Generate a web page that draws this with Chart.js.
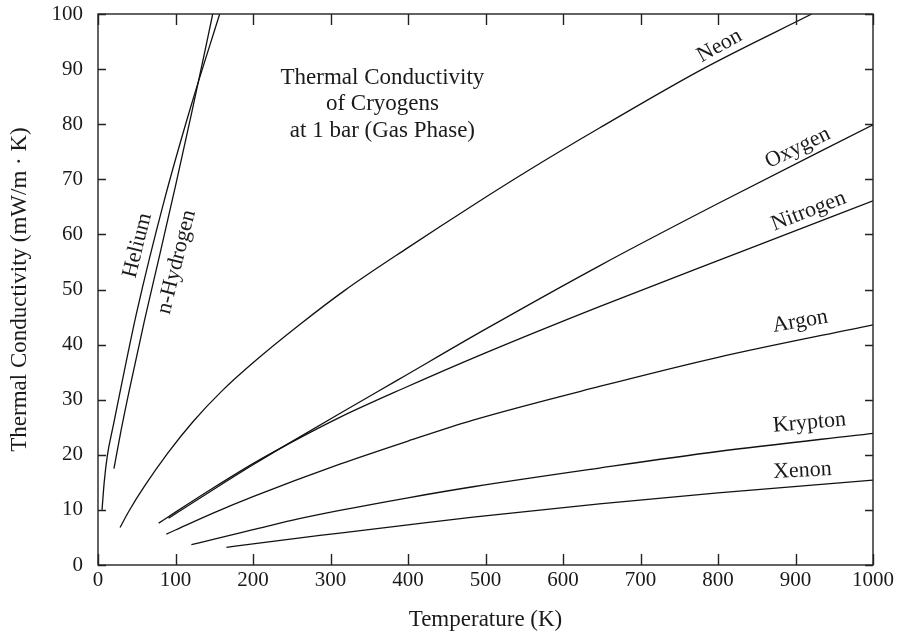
<!DOCTYPE html>
<html>
<head>
<meta charset="utf-8">
<script src="https://cdn.jsdelivr.net/npm/chart.js@4.4.0/dist/chart.umd.min.js"></script>
<style>
  html, body { margin: 0; padding: 0; background: #fff; }
  #wrap { width: 905px; height: 635px; }
</style>
</head>
<body>
<div id="wrap"><canvas id="chart"></canvas></div>
<script>
// temperature (K) and thermal conductivity (mW/m.K)
const heliumT = [5.2, 8, 12, 20, 29, 50, 85, 120, 157];
const heliumK = [10, 15, 19.8, 25.5, 31.8, 45.9, 65.9, 83.3, 100];

const hydrogenT = [20.6, 30, 40.5, 60, 80, 100, 120, 135, 148];
const hydrogenK = [17.5, 24.6, 31.8, 44.4, 56.5, 68.8, 81.5, 91.3, 100];

const neonT = [28.4, 40, 60, 90, 122.5, 160, 200, 260, 318, 400, 484, 560, 647, 780, 921];
const neonK = [6.8, 9.8, 14.3, 20.3, 26.0, 31.6, 36.7, 43.6, 49.8, 57.6, 65.3, 72.0, 79.3, 90.0, 100];

const oxygenT = [91, 100, 150, 200, 250, 312, 387, 500, 647, 800, 1000];
const oxygenK = [8.5, 9.3, 13.8, 18.2, 22.4, 27.5, 33.6, 42.8, 54.3, 65.6, 79.9];

const nitrogenT = [78.3, 100, 150, 200, 250, 312, 391.5, 500, 647, 836, 1000];
const nitrogenK = [7.6, 9.6, 14.1, 18.4, 22.3, 26.8, 31.9, 38.5, 46.9, 57.2, 66.1];

const argonT = [88.2, 100, 150, 200, 312, 400, 484, 647, 800, 1000];
const argonK = [5.6, 6.35, 9.5, 12.4, 18.3, 22.5, 26.3, 32.4, 37.7, 43.6];

const kryptonT = [120.5, 150, 200, 250, 312, 400, 484, 647, 800, 1000];
const kryptonK = [3.7, 4.7, 6.4, 8.1, 9.9, 12.2, 14.2, 17.6, 20.6, 23.9];

const xenonT = [165.7, 200, 312, 400, 484, 647, 800, 1000];
const xenonK = [3.2, 3.85, 5.8, 7.3, 8.7, 11.1, 13.1, 15.4];

const seriesNames = ['Helium', 'n-Hydrogen', 'Neon', 'Oxygen', 'Nitrogen', 'Argon', 'Krypton', 'Xenon'];
const xTicks = [0, 100, 200, 300, 400, 500, 600, 700, 800, 900, 1000];
const yTicks = [0, 10, 20, 30, 40, 50, 60, 70, 80, 90, 100];
const noteLines = ['Thermal Conductivity', 'of Cryogens', 'at 1 bar (Gas Phase)'];

const serif = "'Liberation Serif', 'Times New Roman', serif";

function pts(ts, ks) {
  return ts.map((t, i) => ({ x: t, y: ks[i] }));
}

const allT = [heliumT, hydrogenT, neonT, oxygenT, nitrogenT, argonT, kryptonT, xenonT];
const allK = [heliumK, hydrogenK, neonK, oxygenK, nitrogenK, argonK, kryptonK, xenonK];

const datasets = seriesNames.map((name, i) => ({
  label: name,
  data: pts(allT[i], allK[i]),
  borderColor: '#111',
  borderWidth: 1.3,
  pointRadius: 0,
  fill: false,
  cubicInterpolationMode: 'monotone'
}));

// frame with inward ticks, curve names and the note in the corner
const decorations = {
  id: 'decorations',
  afterDatasetsDraw(chart, args, opts) {
    const { ctx, chartArea: a, scales: { x, y } } = chart;
    ctx.save();
    ctx.strokeStyle = '#222';
    ctx.lineWidth = 1.4;
    ctx.strokeRect(a.left, a.top, a.right - a.left, a.bottom - a.top);
    ctx.beginPath();
    xTicks.forEach(v => {
      const px = Math.round(x.getPixelForValue(v)) + 0.5;
      ctx.moveTo(px, a.bottom); ctx.lineTo(px, a.bottom - 11);
      ctx.moveTo(px, a.top); ctx.lineTo(px, a.top + 11);
    });
    yTicks.forEach(v => {
      const py = Math.round(y.getPixelForValue(v)) + 0.5;
      ctx.moveTo(a.left, py); ctx.lineTo(a.left + 8, py);
      ctx.moveTo(a.right, py); ctx.lineTo(a.right - 8, py);
    });
    ctx.stroke();

    ctx.fillStyle = '#1a1a1a';
    ctx.font = '22px ' + serif;
    ctx.textAlign = 'center';
    ctx.textBaseline = 'middle';
    opts.spots.forEach((s, i) => {
      ctx.save();
      ctx.translate(x.getPixelForValue(s.at[0]), y.getPixelForValue(s.at[1]));
      ctx.rotate(s.angle * Math.PI / 180);
      ctx.fillText(seriesNames[i], 0, 0);
      ctx.restore();
    });

    ctx.font = '23px ' + serif;
    const nx = x.getPixelForValue(opts.note.at[0]);
    const ny = y.getPixelForValue(opts.note.at[1]);
    noteLines.forEach((line, i) => ctx.fillText(line, nx, ny + i * opts.note.gap));
    ctx.restore();
  }
};

new Chart(document.getElementById('chart'), {
  type: 'line',
  data: { datasets },
  plugins: [decorations],
  options: {
    responsive: true,
    maintainAspectRatio: false,
    animation: false,
    layout: { padding: { top: 14, right: 32, left: 0, bottom: 0 } },
    plugins: {
      legend: { display: false },
      tooltip: { enabled: false },
      decorations: {
        spots: [
          { at: [51, 58], angle: -76 },
          { at: [101.5, 55], angle: -76 },
          { at: [802, 94.2], angle: -29 },
          { at: [903, 75.7], angle: -26 },
          { at: [917, 64.2], angle: -21 },
          { at: [906, 44.2], angle: -10 },
          { at: [918, 25.8], angle: -5 },
          { at: [909, 17.1], angle: -3 }
        ],
        note: { at: [367, 88.4], gap: 26.5 }
      }
    },
    scales: {
      x: {
        type: 'linear',
        min: 0,
        max: 1000,
        afterFit(s) { s.height = 70; s.paddingLeft = 0; s.paddingRight = 0; },
        afterBuildTicks(s) { s.ticks = xTicks.map(v => ({ value: v })); },
        grid: { display: false, drawTicks: false },
        border: { display: false },
        ticks: {
          padding: 3,
          color: '#1a1a1a',
          font: { family: serif, size: 21 },
          maxRotation: 0,
          callback: v => String(v)
        },
        title: {
          display: true,
          text: 'Temperature (K)',
          color: '#1a1a1a',
          font: { family: serif, size: 23 },
          padding: { top: 0, bottom: 1 }
        }
      },
      y: {
        type: 'linear',
        min: 0,
        max: 100,
        afterFit(s) { s.width = 98; s.paddingTop = 0; s.paddingBottom = 0; },
        afterBuildTicks(s) { s.ticks = yTicks.map(v => ({ value: v })); },
        grid: { display: false, drawTicks: false },
        border: { display: false },
        ticks: {
          padding: 15,
          color: '#1a1a1a',
          font: { family: serif, size: 21 },
          callback: v => String(v)
        },
        title: {
          display: true,
          text: 'Thermal Conductivity (mW/m · K)',
          color: '#1a1a1a',
          font: { family: serif, size: 23 },
          padding: { top: 6, bottom: 0 }
        }
      }
    }
  }
});
</script>
</body>
</html>
